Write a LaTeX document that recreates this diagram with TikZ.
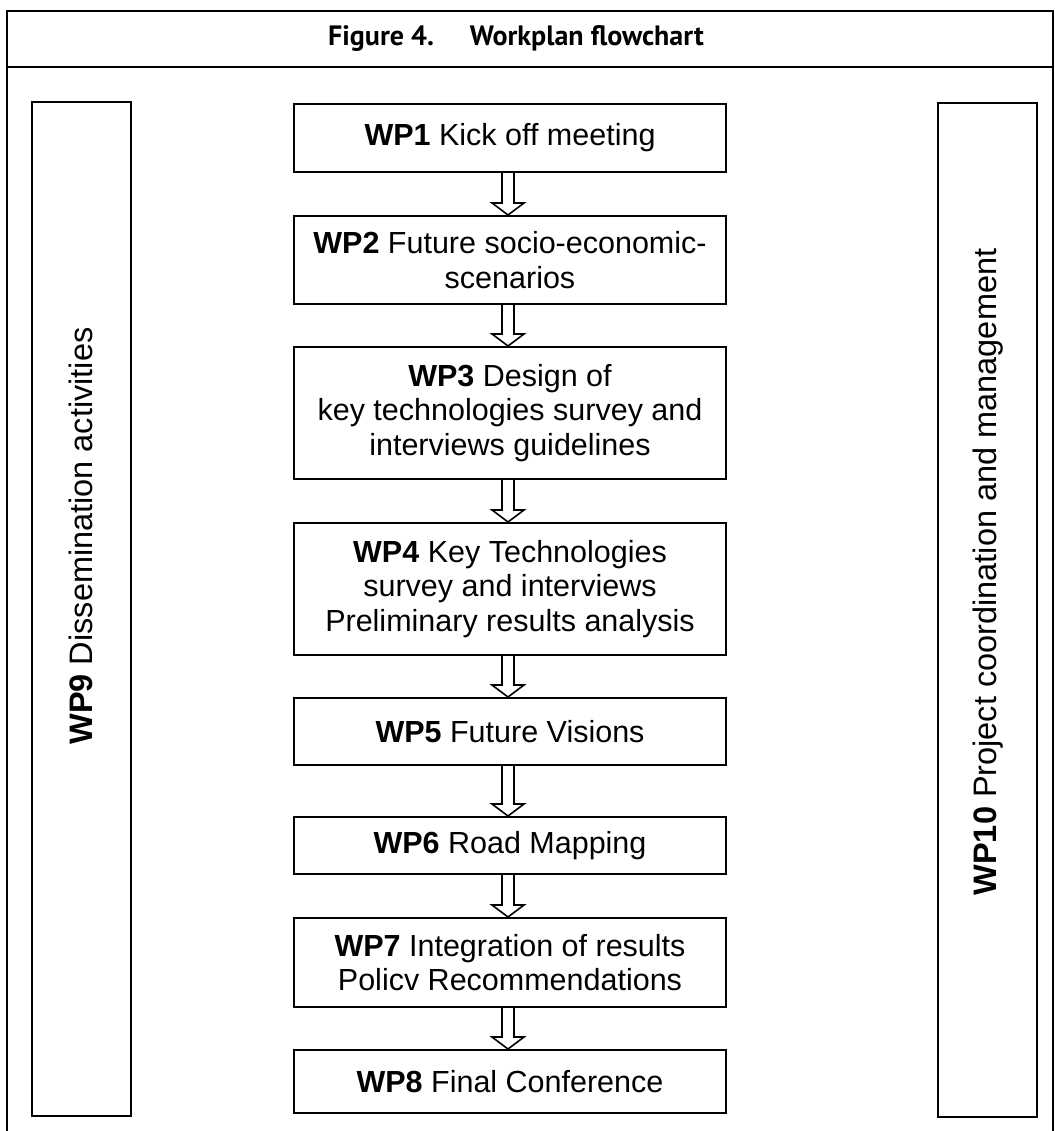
\documentclass[tikz,border=0pt]{standalone}
\usepackage{fontspec}
\setmainfont{Liberation Sans}
\newfontfamily\titlefont{PT Sans}
\begin{document}
\begin{tikzpicture}[x=1pt,y=-1pt,
	wpbox/.style={draw,line width=2pt,minimum width=432pt,align=center,inner sep=0pt,
		font=\fontsize{30.5}{34.5}\selectfont},
	sidebox/.style={draw,line width=2pt,minimum width=99pt,minimum height=1014pt,inner sep=0pt},
	sidetext/.style={rotate=90,font=\fontsize{32.5}{36}\selectfont},
	flow/.style={line width=1.6pt,line join=miter}]
		\useasboundingbox (0,0) rectangle (1054,1131);
		
		% frame and title
		\draw[line width=1.5pt] (7,1131) -- (7,11) -- (1053,11) -- (1053,1131);
		\draw[line width=1.5pt] (7,67) -- (1053,67);
		\node[font=\titlefont\bfseries\fontsize{28}{32}\selectfont] (title) at (516,38) {Figure 4.\hspace{36pt}Workplan flowchart};
		
		% work packages
		\node[wpbox,minimum height=68pt] (wp1) at (510,138) {\textbf{WP1} Kick off meeting};
		\node[wpbox,minimum height=88pt] (wp2) at (510,260) {\textbf{WP2} Future socio-economic-\\scenarios};
		\node[wpbox,minimum height=132pt] (wp3) at (510,413) {\textbf{WP3} Design of\\key technologies survey and\\interviews guidelines};
		\node[wpbox,minimum height=132pt] (wp4) at (510,589) {\textbf{WP4} Key Technologies\\survey and interviews\\Preliminary results analysis};
		\node[wpbox,minimum height=67pt] (wp5) at (510,731.5) {\textbf{WP5} Future Visions};
		\node[wpbox,minimum height=57pt] (wp6) at (510,845.5) {\textbf{WP6} Road Mapping};
		\node[wpbox,minimum height=89pt] (wp7) at (510,962.5) {\textbf{WP7} Integration of results\\Policv Recommendations};
		\node[wpbox,minimum height=63pt] (wp8) at (510,1081.5) {\textbf{WP8} Final Conference};
		
		% double line arrows
		\foreach \a/\b in {wp1/wp2,wp2/wp3,wp3/wp4,wp4/wp5,wp5/wp6,wp6/wp7,wp7/wp8}
		\draw[flow] ([xshift=-8pt]\a.south) -- ([xshift=-8pt,yshift=12pt]\b.north)
			-- ([xshift=-18pt,yshift=12pt]\b.north) -- ([xshift=-2pt]\b.north)
			-- ([xshift=14pt,yshift=12pt]\b.north) -- ([xshift=4pt,yshift=12pt]\b.north)
			-- ([xshift=4pt]\a.south);
		
		% side work packages
		\node[sidebox] (wp9) at (81.5,609) {};
		\node[sidetext] (wp9text) at (81,536) {\textbf{WP9} Dissemination activities};
		\node[sidebox] (wp10) at (987.5,610) {};
		\node[sidetext] (wp10text) at (988,572) {\textbf{WP10} Project coordination and management};
\end{tikzpicture}
\end{document}
